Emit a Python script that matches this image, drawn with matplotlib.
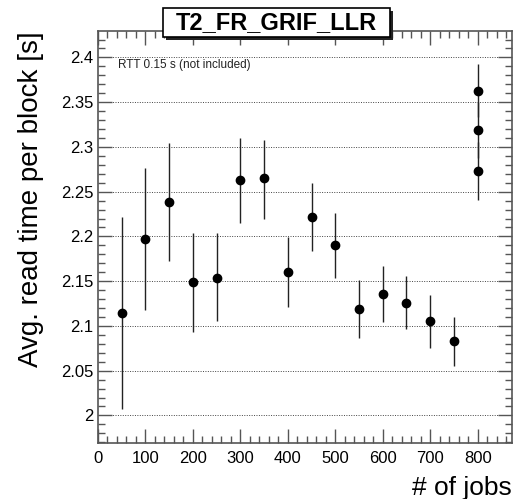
import matplotlib.pyplot as plt
from matplotlib.ticker import MultipleLocator
from matplotlib.patches import Rectangle

plt.rcParams['font.family'] = ['Liberation Sans', 'DejaVu Sans']

# average read time per block vs number of concurrent jobs
jobs = [50, 100, 150, 200, 250, 300, 350, 400, 450, 500, 550, 600, 650, 700, 750,
        800, 800, 800]
read_time = [2.114, 2.197, 2.239, 2.149, 2.154, 2.263, 2.265, 2.160, 2.222, 2.190,
             2.119, 2.136, 2.126, 2.105, 2.083, 2.363, 2.319, 2.273]
err_lo = [0.107, 0.079, 0.067, 0.056, 0.049, 0.048, 0.045, 0.039, 0.038, 0.036,
          0.033, 0.032, 0.030, 0.030, 0.028, 0.030, 0.031, 0.032]
err_hi = [0.108, 0.079, 0.065, 0.055, 0.050, 0.047, 0.043, 0.039, 0.038, 0.036,
          0.032, 0.031, 0.030, 0.029, 0.027, 0.030, 0.031, 0.032]

fig = plt.figure(figsize=(5.15, 4.99), dpi=100)
ax = fig.add_axes([0.190, 0.113, 0.804, 0.825])

ax.errorbar(jobs, read_time, yerr=[err_lo, err_hi], fmt='o', color='black',
            ecolor='#222222', elinewidth=1.0, markersize=6, capsize=0)

ax.set_xlim(0, 872)
ax.set_ylim(1.9696, 2.4296)
ax.xaxis.set_major_locator(MultipleLocator(100))
ax.xaxis.set_minor_locator(MultipleLocator(20))
ax.yaxis.set_major_locator(MultipleLocator(0.05))
ax.yaxis.set_minor_locator(MultipleLocator(0.01))
ax.yaxis.set_major_formatter(plt.FuncFormatter(lambda v, p: ('%.2f' % v).rstrip('0').rstrip('.')))

ax.tick_params(which='both', direction='in', top=True, right=True,
               labelsize=12, color='#555555')
ax.tick_params(which='major', length=10, width=1)
ax.tick_params(which='minor', length=5, width=1)
ax.tick_params(axis='x', pad=6)
ax.tick_params(axis='y', pad=3)
for s in ax.spines.values():
    s.set_color('#555555')
    s.set_linewidth(1.2)

ax.grid(axis='y', which='major', linestyle=(0, (1, 1.5)), color='#444444', linewidth=0.7)
ax.set_axisbelow(True)

ax.set_ylabel('Avg. read time per block [s]', fontsize=20, loc='top')
ax.yaxis.set_label_coords(-0.130, 1.0)
ax.set_xlabel('# of jobs', fontsize=19, loc='right')
ax.xaxis.set_label_coords(1.0, -0.082)

ax.text(0.048, 0.918, 'RTT 0.15 s (not included)', transform=ax.transAxes,
        fontsize=8.5, va='center', color='#222222')

# title box with drop shadow
fig.patches.append(Rectangle((0.322, 0.920), 0.441, 0.058, transform=fig.transFigure,
                             facecolor='#222222', edgecolor='none', zorder=5))
fig.patches.append(Rectangle((0.317, 0.926), 0.441, 0.058, transform=fig.transFigure,
                             facecolor='white', edgecolor='black', linewidth=1.2, zorder=6))
fig.text(0.5375, 0.955, 'T2_FR_GRIF_LLR', fontsize=17, fontweight='bold',
         ha='center', va='center', zorder=7)

fig.savefig('out.png', dpi=100)
